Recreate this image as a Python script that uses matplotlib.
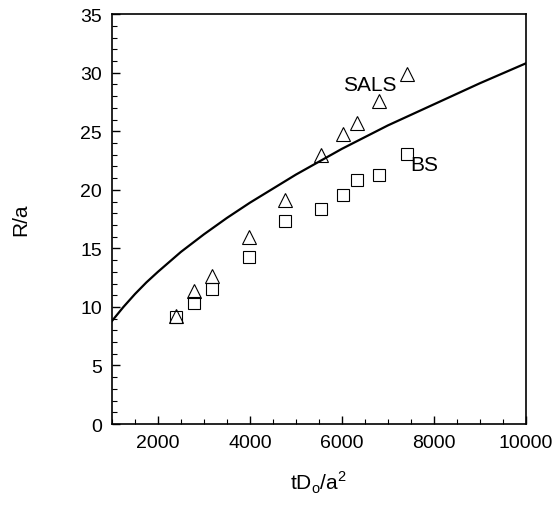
import numpy as np
import matplotlib.pyplot as plt
from matplotlib.ticker import MultipleLocator

plt.rcParams['font.family'] = ['Liberation Sans', 'DejaVu Sans']

# SALS (triangles) and BS (squares) data
t_sals = [2390, 2780, 3170, 3970, 4760, 5540, 6015, 6325, 6800, 7420]
r_sals = [9.2, 11.4, 12.6, 16.0, 19.1, 23.0, 24.8, 25.7, 27.6, 29.9]
t_bs = [2390, 2780, 3170, 3970, 4760, 5540, 6020, 6330, 6810, 7420]
r_bs = [9.1, 10.3, 11.5, 14.3, 17.3, 18.4, 19.6, 20.8, 21.3, 23.1]

# theory curve
t_curve = [1000, 1250, 1500, 1750, 2000, 2500, 3000, 3500, 4000, 5000, 6000, 7000, 8000, 9000, 10000]
r_curve = [8.8, 10.0, 11.1, 12.1, 13.0, 14.7, 16.2, 17.6, 18.9, 21.3, 23.5, 25.5, 27.3, 29.1, 30.8]

fig = plt.figure(figsize=(5.57, 5.06), dpi=100)
ax = fig.add_axes([0.201, 0.160, 0.743, 0.810])

ax.plot(t_curve, r_curve, color='black', lw=1.6)
ax.plot(t_sals, r_sals, linestyle='none', marker='^', ms=9.5,
        mfc='none', mec='black', mew=0.8)
ax.plot(t_bs, r_bs, linestyle='none', marker='s', ms=8,
        mfc='none', mec='black', mew=0.8)

ax.text(6610, 29.0, 'SALS', fontsize=15, ha='center', va='center')
ax.text(7800, 22.2, 'BS', fontsize=15, ha='center', va='center')

ax.set_xlim(1000, 10000)
ax.set_ylim(0, 35)
ax.set_xticks([2000, 4000, 6000, 8000, 10000])
ax.set_yticks(range(0, 36, 5))
ax.xaxis.set_minor_locator(MultipleLocator(500))
ax.yaxis.set_minor_locator(MultipleLocator(1))
ax.tick_params(which='both', direction='in', labelsize=14)
ax.tick_params(which='major', length=6, width=1, pad=7)
ax.tick_params(which='minor', length=3.5, width=0.8)
for s in ax.spines.values():
    s.set_linewidth(1.2)

ax.set_xlabel('tD$_\\mathregular{o}$/a$^\\mathregular{2}$', fontsize=15, labelpad=13)
ax.set_ylabel('R/a', fontsize=15, labelpad=36)

plt.savefig('out.png', dpi=100)
